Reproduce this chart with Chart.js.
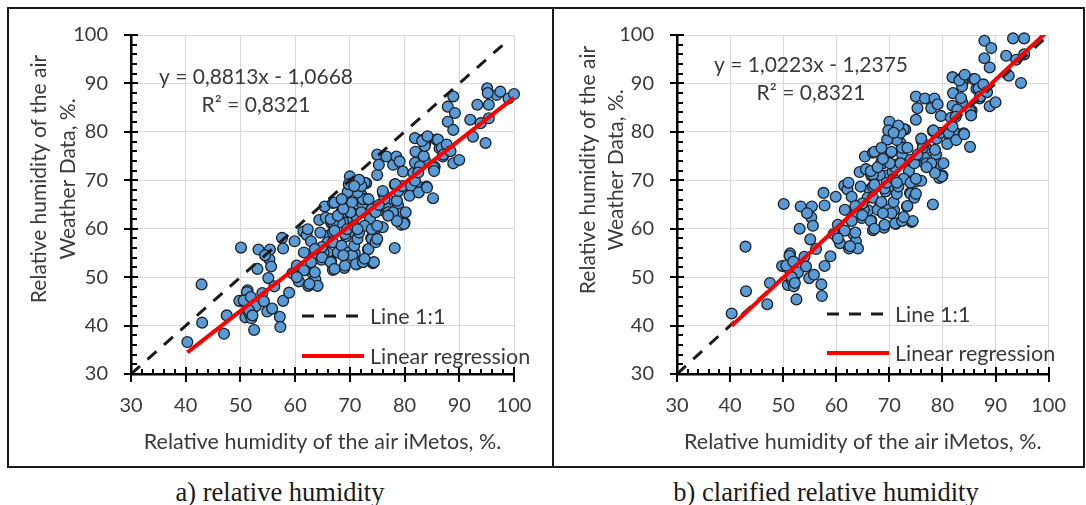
<!DOCTYPE html>
<html>
<head>
<meta charset="utf-8">
<title>Relative humidity: iMetos vs Weather Data</title>
<script src="https://cdn.jsdelivr.net/npm/chart.js@4.4.1/dist/chart.umd.min.js"></script>
<style>
  html, body { margin: 0; padding: 0; background: #ffffff; }
  body { width: 1086px; height: 505px; position: relative; overflow: hidden; }
  #frame { position: absolute; left: 7px; top: 7px; width: 1074px; height: 457px; border: 2px solid #1a1a1a; }
  #divider { position: absolute; left: 552px; top: 7px; width: 2px; height: 461px; background: #1a1a1a; }
  canvas { position: absolute; top: 0; }
  #panelA { left: 0; }
  #panelB { left: 554px; }
  .caption { position: absolute; top: 477px; line-height: 30px; font-family: "Liberation Serif", "Times New Roman", serif;
             font-size: 26.5px; color: #1a1a1a; white-space: nowrap; transform: translateX(-50%); }
</style>
</head>
<body>
<div id="frame"></div>
<div id="divider"></div>
<canvas id="panelA" width="552" height="470"></canvas>
<canvas id="panelB" width="532" height="470"></canvas>
<div class="caption" style="left:280px">a) relative humidity</div>
<div class="caption" style="left:826px">b) clarified relative humidity</div>

<script>
// ---- data -------------------------------------------------------------
// Relative humidity measured by the iMetos station, %
const iMetosA = [
  40.3, 42.9, 43.0, 47.0, 47.5, 50.1, 49.8, 50.8, 51.3, 51.7,
  50.9, 51.6, 52.2, 52.0, 52.5, 52.8, 53.1, 53.3, 54.0, 54.3,
  54.9, 55.1, 55.3, 55.4, 55.6, 56.2, 57.2, 57.3, 57.6, 57.8,
  57.8, 58.9, 59.5, 59.9, 60.7, 61.5, 62.4, 63.0, 63.2, 63.7,
  64.1, 62.1, 62.9, 64.4, 63.9, 64.8, 64.5, 65.4, 66.9, 66.6,
  66.3, 66.0, 66.6, 66.9, 68.2, 68.5, 69.0, 69.3, 69.4, 70.0,
  69.7, 70.2, 70.6, 70.9, 70.9, 71.2, 71.8, 72.1, 72.4, 71.5,
  73.0, 73.3, 74.2, 73.9, 74.9, 75.0, 75.0, 75.3, 76.1, 76.7,
  76.4, 77.0, 77.9, 78.2, 78.2, 78.5, 78.8, 79.1, 79.4, 79.7,
  80.0, 79.4, 80.8, 81.6, 81.9, 82.0, 82.6, 83.4, 83.7, 84.0,
  83.8, 85.2, 85.5, 85.8, 86.4, 87.0, 87.9, 87.9, 88.9, 88.9,
  89.2, 88.9, 90.0, 92.0, 92.5, 93.3, 93.9, 94.8, 95.1, 95.4,
  95.4, 96.8, 97.5, 99.0, 100.0,
  72.7, 73.1, 72.4, 71.4, 69.6, 69.8, 70.4, 67.2, 68.8, 68.2,
  66.9, 71.1, 72.1, 73.4, 74.0, 73.7, 74.7, 76.0, 76.6, 77.0,
  77.9, 78.6, 78.9, 79.6, 78.3, 80.2, 79.9, 78.6, 76.3, 81.2,
  80.9, 81.9, 82.6, 81.9, 82.8, 83.5, 83.7, 82.5, 84.1, 83.2,
  84.2, 85.3, 85.4, 86.1, 86.8, 87.1, 87.7, 88.4, 95.2, 62.3,
  64.6, 65.2, 63.6, 64.9, 62.9, 63.6, 62.6, 65.9, 66.9, 66.9,
  66.5, 67.2, 67.8, 68.5, 69.1, 69.5, 69.1, 69.8, 70.4, 70.8,
  71.1, 71.4, 71.7, 72.4, 72.7, 73.4, 74.0, 74.0, 74.7, 75.0,
  74.4, 72.7, 68.8, 64.9, 61.6, 63.6, 60.3, 54.5, 55.8, 51.2,
  50.6, 51.9, 51.6, 52.2, 61.6, 60.3, 65.6, 66.5, 67.2, 67.8,
  70.1, 70.8, 71.4, 68.8, 68.5, 72.1, 71.7, 70.8, 76.0, 77.0,
  75.3, 75.0
];
// Relative humidity from Weather Data, %
const weatherA = [
  36.6, 48.5, 40.6, 38.3, 42.1, 56.1, 45.1, 44.8, 47.3, 45.0,
  41.7, 42.6, 43.4, 41.5, 39.1, 44.0, 51.7, 55.7, 46.7, 45.0,
  42.9, 49.8, 53.7, 55.7, 52.2, 48.1, 41.8, 39.7, 58.1, 55.9,
  45.1, 46.8, 50.8, 57.4, 49.1, 59.4, 48.2, 53.9, 50.8, 49.5,
  48.2, 58.7, 57.4, 61.8, 55.7, 53.6, 55.7, 64.6, 65.3, 61.2,
  58.7, 55.0, 53.2, 51.5, 55.7, 63.6, 51.9, 58.4, 61.2, 70.8,
  67.7, 65.3, 61.8, 59.1, 55.0, 52.6, 69.1, 67.0, 64.9, 63.2,
  69.4, 55.7, 52.9, 58.1, 60.1, 71.1, 75.3, 73.2, 67.3, 74.9,
  63.6, 66.0, 73.2, 56.0, 69.1, 74.9, 64.9, 73.9, 63.2, 71.8,
  61.2, 60.8, 68.7, 71.5, 78.7, 75.9, 68.7, 78.4, 74.2, 68.7,
  77.7, 66.3, 72.8, 78.4, 76.6, 74.9, 82.1, 85.2, 87.3, 80.4,
  83.9, 73.5, 74.2, 82.5, 79.0, 85.6, 81.8, 77.7, 89.0, 85.6,
  82.8, 87.6, 88.3, 86.9, 87.8,
  69.5, 66.1, 66.1, 67.5, 67.6, 69.2, 65.4, 65.4, 63.4, 61.3,
  61.3, 62.7, 63.4, 66.1, 64.0, 62.0, 63.4, 60.3, 64.4, 63.4,
  63.4, 65.8, 67.8, 68.8, 69.2, 63.4, 61.0, 61.6, 66.1, 68.8,
  66.8, 69.9, 67.5, 73.6, 72.9, 75.0, 77.1, 71.6, 68.5, 78.1,
  79.1, 72.6, 71.9, 78.4, 76.7, 75.3, 77.4, 76.0, 88.0, 59.9,
  59.2, 55.1, 54.5, 54.1, 53.1, 51.0, 48.6, 57.2, 59.2, 57.2,
  53.1, 51.7, 55.1, 56.5, 58.9, 59.9, 52.4, 55.1, 54.5, 56.5,
  52.7, 57.9, 59.2, 53.1, 60.6, 55.8, 57.9, 59.9, 57.2, 57.9,
  53.1, 53.8, 54.5, 56.2, 55.1, 55.8, 52.4, 54.5, 43.5, 46.9,
  45.2, 45.9, 43.1, 42.1, 51.4, 50.0, 62.3, 62.0, 59.6, 62.7,
  63.4, 60.6, 59.9, 64.1, 66.1, 68.8, 70.1, 68.8, 67.8, 62.7,
  64.9, 60.6
];
// Clarified relative humidity: iMetos readings and Weather Data values, %
const iMetosB = [
  40.3, 42.9, 43.0, 47.0, 47.5, 50.1, 49.8, 50.8, 51.3, 51.7,
  50.9, 51.6, 52.2, 52.0, 52.5, 52.8, 53.1, 53.3, 54.0, 54.3,
  54.9, 55.1, 55.3, 55.4, 55.6, 56.2, 57.2, 57.3, 57.6, 57.8,
  57.8, 58.9, 59.5, 59.9, 60.7, 61.5, 62.4, 63.0, 63.2, 63.7,
  64.1, 62.1, 62.9, 64.4, 63.9, 64.8, 64.5, 65.4, 66.9, 66.6,
  66.3, 66.0, 66.6, 66.9, 68.2, 68.5, 69.0, 69.3, 69.4, 70.0,
  69.7, 70.2, 70.6, 70.9, 70.9, 71.2, 71.8, 72.1, 72.4, 71.5,
  73.0, 73.3, 74.2, 73.9, 74.9, 75.0, 75.0, 75.3, 76.1, 76.7,
  76.4, 77.0, 77.9, 78.2, 78.2, 78.5, 78.8, 79.1, 79.4, 79.7,
  80.0, 79.4, 80.8, 81.6, 81.9, 82.0, 82.6, 83.4, 83.7, 84.0,
  83.8, 85.2, 85.5, 85.8, 86.4, 87.0, 87.9, 87.9, 88.9,
  89.2, 88.9, 90.0, 92.0, 92.5, 93.3, 93.9, 94.8, 95.4,
  95.4,
  72.7, 73.1, 72.4, 71.4, 69.6, 69.8, 70.4, 67.2, 68.8, 68.2,
  66.9, 71.1, 72.1, 73.4, 74.0, 73.7, 74.7, 76.0, 76.6, 77.0,
  77.9, 78.6, 78.9, 79.6, 78.3, 80.2, 79.9, 78.6, 76.3, 81.2,
  80.9, 81.9, 82.6, 81.9, 82.8, 83.5, 83.7, 82.5, 84.1, 83.2,
  84.2, 85.3, 85.4, 86.1, 86.8, 87.1, 87.7, 88.4, 62.3,
  64.6, 65.2, 63.6, 64.9, 62.9, 63.6, 62.6, 65.9, 66.9, 66.9,
  66.5, 67.2, 67.8, 68.5, 69.1, 69.5, 69.1, 69.8, 70.4, 70.8,
  71.1, 71.4, 71.7, 72.4, 72.7, 73.4, 74.0, 74.0, 74.7, 75.0,
  74.4, 72.7, 68.8, 64.9, 61.6, 63.6, 60.3, 54.5, 55.8, 51.2,
  50.6, 51.9, 51.6, 52.2, 61.6, 60.3, 65.6, 66.5, 67.2, 67.8,
  70.1, 70.8, 71.4, 68.8, 68.5, 72.1, 71.7, 70.8, 76.0, 77.0,
  75.3, 75.0
];
const weatherB = [
  42.5, 56.3, 47.1, 44.4, 48.8, 65.1, 52.3, 52.0, 54.9, 52.2,
  48.4, 49.4, 50.3, 48.1, 45.4, 51.0, 60.0, 64.6, 54.2, 52.2,
  49.8, 57.8, 62.3, 64.6, 60.6, 55.8, 48.5, 46.1, 67.4, 64.8,
  52.3, 54.3, 58.9, 66.6, 57.0, 68.9, 55.9, 62.5, 58.9, 57.4,
  55.9, 68.1, 66.6, 71.7, 64.6, 62.2, 64.6, 74.9, 75.7, 71.0,
  68.1, 63.8, 61.7, 59.7, 64.6, 73.8, 60.2, 67.7, 71.0, 82.1,
  78.5, 75.7, 71.7, 68.6, 63.8, 61.0, 80.2, 77.7, 75.3, 73.3,
  80.5, 64.6, 61.4, 67.4, 69.7, 82.5, 87.3, 84.9, 78.1, 86.9,
  73.8, 76.6, 84.9, 65.0, 80.2, 86.9, 75.3, 85.7, 73.3, 83.3,
  71.0, 70.5, 79.7, 82.9, 91.3, 88.0, 79.7, 90.9, 86.1, 79.7,
  90.1, 76.9, 84.4, 90.9, 88.9, 86.9, 95.2, 98.8, 93.3,
  97.3, 85.3, 86.1, 95.7, 91.6, 99.3, 94.9, 90.1, 99.3,
  96.0,
  80.6, 76.7, 76.7, 78.3, 78.4, 80.3, 75.9, 75.9, 73.5, 71.1,
  71.1, 72.7, 73.5, 76.7, 74.2, 71.9, 73.5, 69.9, 74.7, 73.5,
  73.5, 76.3, 78.6, 79.8, 80.3, 73.5, 70.8, 71.5, 76.7, 79.8,
  77.5, 81.1, 78.3, 85.4, 84.6, 87.0, 89.4, 83.1, 79.5, 90.6,
  91.8, 84.2, 83.4, 90.9, 89.0, 87.3, 89.8, 88.2, 69.5,
  68.7, 63.9, 63.2, 62.8, 61.6, 59.2, 56.4, 66.4, 68.7, 66.4,
  61.6, 60.0, 63.9, 65.5, 68.3, 69.5, 60.8, 63.9, 63.2, 65.5,
  61.1, 67.2, 68.7, 61.6, 70.3, 64.7, 67.2, 69.5, 66.4, 67.2,
  61.6, 62.4, 63.2, 65.2, 63.9, 64.7, 60.8, 63.2, 50.5, 54.4,
  52.4, 53.2, 50.0, 48.8, 59.6, 58.0, 72.3, 71.9, 69.1, 72.7,
  73.5, 70.3, 69.5, 74.4, 76.7, 79.8, 81.3, 79.8, 78.6, 72.7,
  75.3, 70.3
];

// Linear regression y = slope * x + intercept for panels a) and b)
const slopes = [0.8813, 1.0223];
const intercepts = [-1.0668, -1.2375];
const rSquared = [0.8321, 0.8321];
const fitRange = [40.3, 100];      // iMetos range covered by the fitted line
const oneToOne = [30, 99];         // ends of the 1:1 reference line
const axisRange = [30, 100];
const majorStep = 10;
const minorStep = 2;
const seriesNames = ['Line 1:1', 'Linear regression'];
const xTitle = 'Relative humidity of the air iMetos, %.';
const yTitle = ['Relative humidity of the air', 'Weather Data, %.'];

// ---- drawing helpers ---------------------------------------------------
const FONT = 'Lato, "Open Sans", sans-serif';
const TEXT = '#3a3a3a';

function fmt(v) { return Math.abs(v).toFixed(4).replace('.', ','); }

// Tick marks, equation, in-plot legend and axis titles
const panelDecor = {
  id: 'panelDecor',
  afterDraw(chart, args, o) {
    const ctx = chart.ctx;
    const xs = chart.scales.x, ys = chart.scales.y;
    const a = chart.chartArea;
    ctx.save();

    // tick marks: major ones cross the axis, minor ones point inwards
    ctx.strokeStyle = '#000';
    ctx.lineWidth = 2;
    ctx.setLineDash([]);
    ctx.beginPath();
    for (let v = ys.min; v <= ys.max + 1e-6; v += minorStep) {
      const p = Math.round(ys.getPixelForValue(v));
      const major = Math.abs(Math.round(v) % majorStep) === 0;
      ctx.moveTo(a.left - (major ? 7 : 0), p);
      ctx.lineTo(a.left + (major ? 7 : 6), p);
    }
    for (let v = xs.min; v <= xs.max + 1e-6; v += minorStep) {
      const p = Math.round(xs.getPixelForValue(v));
      const major = Math.abs(Math.round(v) % majorStep) === 0;
      ctx.moveTo(p, a.bottom + (major ? 8 : 0));
      ctx.lineTo(p, a.bottom - (major ? 7 : 5));
    }
    ctx.stroke();

    // regression equation and R²
    ctx.fillStyle = TEXT;
    ctx.font = '21px ' + FONT;
    ctx.textAlign = 'center';
    ctx.textBaseline = 'middle';
    const eq = 'y = ' + (o.slope < 0 ? '-' : '') + fmt(o.slope) + 'x ' +
               (o.intercept < 0 ? '- ' : '+ ') + fmt(o.intercept);
    ctx.fillText(eq, a.left + o.eq[0], a.top + o.eq[1]);
    ctx.fillText('R\u00B2 = ' + fmt(o.r2), a.left + o.eq[0], a.top + o.eq[1] + 28);

    // legend for the two lines
    const lines = chart.data.datasets.filter(d => d.showLine);
    ctx.font = '21.5px ' + FONT;
    ctx.textAlign = 'left';
    lines.forEach((d, i) => {
      const y = a.top + o.legend[1] + i * o.legend[2];
      const x0 = a.left + o.legend[0];
      ctx.beginPath();
      ctx.strokeStyle = d.borderColor;
      ctx.lineWidth = d.borderWidth;
      ctx.setLineDash(d.borderDash || []);
      ctx.moveTo(x0, y);
      ctx.lineTo(x0 + 62, y);
      ctx.stroke();
      ctx.setLineDash([]);
      ctx.fillStyle = TEXT;
      ctx.fillText(d.label, x0 + 68, y + 1.5);
    });

    // axis titles
    ctx.font = '21.5px ' + FONT;
    ctx.textAlign = 'center';
    ctx.fillStyle = TEXT;
    ctx.fillText(xTitle, (a.left + a.right) / 2, a.bottom + 68);
    ctx.font = '21px ' + FONT;
    ctx.translate(a.left, a.top + o.yTitle[2]);
    ctx.rotate(-Math.PI / 2);
    ctx.fillText(yTitle[0], 0, o.yTitle[0]);
    ctx.fillText(yTitle[1], 0, o.yTitle[1]);
    ctx.restore();
  }
};

function buildPanel(canvasId, xVals, yVals, k, layout) {
  const points = xVals.map((x, i) => ({ x: x, y: yVals[i] }));
  const fitLine = fitRange.map(x => ({ x: x, y: slopes[k] * x + intercepts[k] }));
  const diag = oneToOne.map(v => ({ x: v, y: v }));
  const axisCommon = {
    type: 'linear', min: axisRange[0], max: axisRange[1],
    grid: { color: '#d9d9d9', lineWidth: 1, drawTicks: false },
    border: { display: true, color: '#000', width: 2.5 },
    ticks: { stepSize: majorStep, color: TEXT, font: { family: FONT, size: 20 },
             autoSkip: false, maxRotation: 0, minRotation: 0 }
  };
  return new Chart(document.getElementById(canvasId), {
    type: 'scatter',
    data: {
      datasets: [
        { label: 'Observations', data: points, backgroundColor: '#5b9bd5', borderColor: '#18212b',
          borderWidth: 1.3, pointRadius: 5.4, pointHoverRadius: 5.4, order: 3, clip: false },
        { label: seriesNames[0], data: diag, showLine: true, borderColor: '#1a1a1a', borderWidth: 3,
          borderDash: [12, 10], pointRadius: 0, fill: false, order: 2 },
        { label: seriesNames[1], data: fitLine, showLine: true, borderColor: '#ff0000', borderWidth: 4,
          pointRadius: 0, fill: false, order: 1, clip: 0 }
      ]
    },
    options: {
      responsive: false, animation: false, devicePixelRatio: 1, events: [],
      layout: { padding: layout.padding },
      scales: {
        x: Object.assign({}, axisCommon, {
          ticks: Object.assign({}, axisCommon.ticks, { padding: 20 }),
          afterFit(s) { s.height = 50; }
        }),
        y: Object.assign({}, axisCommon, {
          ticks: Object.assign({}, axisCommon.ticks, { padding: 23 }),
          afterFit(s) { s.width = layout.yWidth; }
        })
      },
      plugins: {
        legend: { display: false },
        tooltip: { enabled: false },
        panelDecor: {
          slope: slopes[k], intercept: intercepts[k], r2: rSquared[k],
          eq: layout.eq, legend: layout.legend, yTitle: layout.yTitle
        }
      }
    },
    plugins: [panelDecor]
  });
}

buildPanel('panelA', iMetosA, weatherA, 0, {
  padding: { left: 0, top: 35, right: 38, bottom: 46 },
  yWidth: 131,
  eq: [125, 42],
  legend: [171, 281, 40],
  yTitle: [-92, -63, 144]
});
buildPanel('panelB', iMetosB, weatherB, 1, {
  padding: { left: 0, top: 32, right: 28, bottom: 46 },
  yWidth: 123,
  eq: [134, 30],
  legend: [150, 279, 39],
  yTitle: [-89, -61, 135]
});
</script>
</body>
</html>
